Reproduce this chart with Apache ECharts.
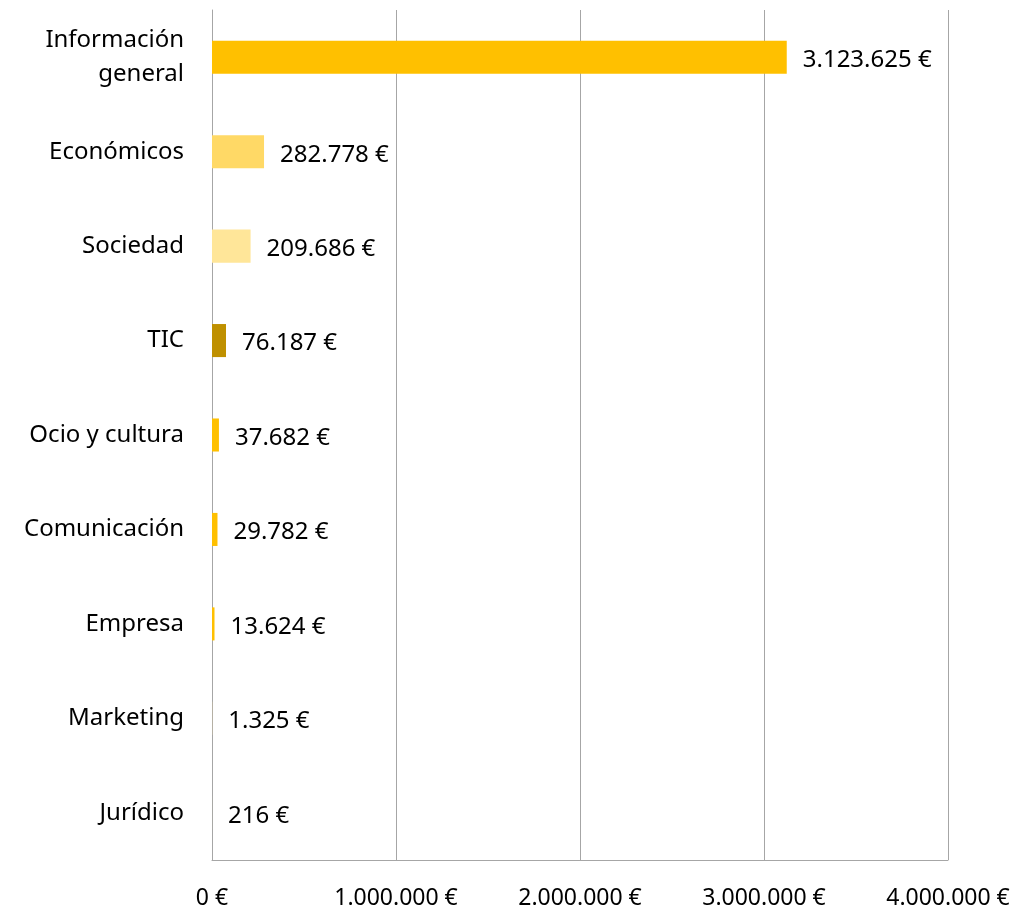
<!DOCTYPE html>
<html>
<head>
<meta charset="utf-8">
<script src="https://cdn.jsdelivr.net/npm/echarts@6/dist/echarts.min.js"></script>
<style>
  html, body { margin: 0; padding: 0; background: #fff; }
  #chart { width: 1020px; height: 912px; }
</style>
</head>
<body>
<div id="chart"></div>
<script>
// categorias de arriba a abajo
var categories = ['Información general', 'Económicos', 'Sociedad', 'TIC', 'Ocio y cultura',
                  'Comunicación', 'Empresa', 'Marketing', 'Jurídico'];
var values = [3123625, 282778, 209686, 76187, 37682, 29782, 13624, 1325, 216];
var barColors = ['#FFC000', '#FFD966', '#FFE699', '#BF9000', '#FFC000',
                 '#FFC000', '#FFC000', '#E6D3A0', '#E6D3A0'];
var xTicks = [0, 1000000, 2000000, 3000000, 4000000];

function euro(v) {
    var s = String(Math.round(v));
    return s.replace(/\B(?=(\d{3})+(?!\d))/g, '.') + ' €';
}

var font = '"Noto Sans", "Open Sans", sans-serif';
var myChart = echarts.init(document.getElementById('chart'));

var option = {
    animation: false,
    grid: { left: 212, right: 72, top: 10, bottom: 52, containLabel: false },
    xAxis: {
        type: 'value',
        min: xTicks[0],
        max: xTicks[xTicks.length - 1],
        interval: 1000000,
        axisLine: { show: true, lineStyle: { color: '#A6A6A6' } },
        axisTick: { show: false },
        splitLine: { show: true, lineStyle: { color: '#A6A6A6', width: 1 } },
        axisLabel: {
            formatter: euro,
            margin: 27,
            fontSize: 23,
            color: '#000',
            fontFamily: font
        }
    },
    yAxis: {
        type: 'category',
        inverse: true,
        data: categories,
        axisLine: { show: true, lineStyle: { color: '#A6A6A6' } },
        axisTick: { show: false },
        axisLabel: {
            margin: 28,
            fontSize: 24,
            lineHeight: 34,
            padding: [3, 0, 0, 0],
            color: '#000',
            fontFamily: font,
            formatter: function (v) {
                return v === 'Información general' ? 'Información\ngeneral' : v;
            }
        }
    },
    series: [{
        type: 'bar',
        barWidth: '35%',
        data: values.map(function (v, i) {
            return { value: v, itemStyle: { color: barColors[i] } };
        }),
        label: {
            show: true,
            position: 'right',
            distance: 16,
            offset: [0, 3],
            fontSize: 24,
            color: '#000',
            fontFamily: font,
            formatter: function (p) { return euro(p.value); }
        }
    }]
};

myChart.setOption(option);
</script>
</body>
</html>
